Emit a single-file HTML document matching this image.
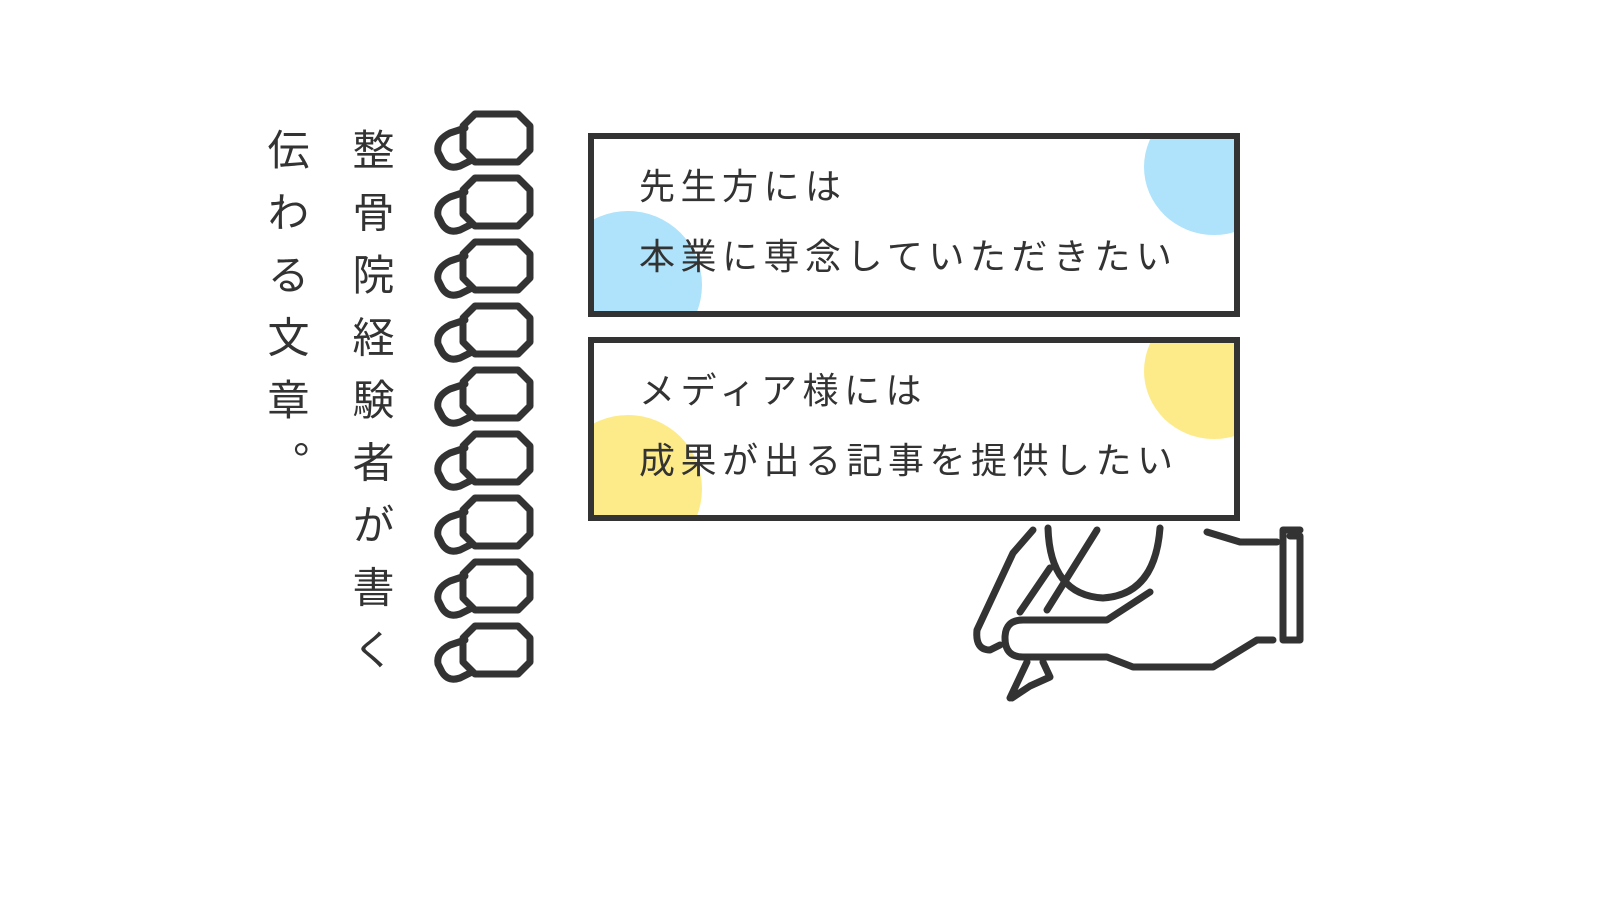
<!DOCTYPE html>
<html><head><meta charset="utf-8"><style>
html,body{margin:0;padding:0;background:#fff;}
body{width:1600px;height:900px;position:relative;overflow:hidden;font-family:"Liberation Sans","Noto Sans CJK JP",sans-serif;color:#333;}
.col{position:absolute;font-size:42px;writing-mode:vertical-rl;letter-spacing:20.5px;line-height:50px;white-space:nowrap;}
.box{position:absolute;left:588px;width:640px;height:172px;border:6px solid #333;overflow:hidden;background:#fff;}
.c{position:absolute;border-radius:50%;}
.t{position:absolute;left:45px;font-size:36px;letter-spacing:5.5px;white-space:nowrap;color:#333;}
</style></head><body>
<div class="col" style="left:345px;top:128px;">整骨院経験者が書く</div>
<div class="col" style="left:260px;top:128px;">伝わる文章。</div>

<svg width="1600" height="900" style="position:absolute;left:0;top:0" fill="none" stroke="#333" stroke-width="7" stroke-linejoin="round" stroke-linecap="round">
<g id="v">
<path d="M465 128 L450 133 Q436 140 438 152 L442 160 Q448 170 460 166 L472 160"/>
<path d="M475 114 L518 114 L530 126 L530 150 L518 162 L475 162 L463 150 L463 126 Z"/>
</g>
<use href="#v" y="64"/><use href="#v" y="128"/><use href="#v" y="192"/><use href="#v" y="256"/><use href="#v" y="320"/><use href="#v" y="384"/><use href="#v" y="448"/><use href="#v" y="512"/>
<g>
<path d="M1033 530 L1013 553 L977 630 Q975 650 990 650 L1000 645"/>
<path d="M1048 528 Q1050 595 1103 598 Q1155 595 1160 528"/>
<path d="M1097 530 L1047 610"/>
<path d="M1050 568 L1020 612"/>
<path d="M1150 592 L1107 620 L1023 620 Q1005 620 1005 638 Q1005 657 1023 657 L1107 657 L1133 667 L1213 667 L1257 640 L1273 640"/>
<path d="M1207 532 L1240 542 L1277 542"/>
<path d="M1283 530 L1283 640 L1300 640 M1290 536 L1300 536 L1300 640 M1283 530 L1300 530"/>
<path d="M1027 662 L1010 698 M1043 662 L1050 677 L1030 686 L1012 698"/>
</g>
</svg>

<div class="box" style="top:133px;">
<div class="c" style="left:550px;top:-40px;width:140px;height:136px;background:#aee3fb;"></div>
<div class="c" style="left:-40px;top:72px;width:148px;height:148px;background:#aee3fb;"></div>
<div class="t" style="top:19px;">先生方には</div>
<div class="t" style="top:89px;">本業に専念していただきたい</div>
</div>
<div class="box" style="top:337px;">
<div class="c" style="left:550px;top:-40px;width:140px;height:136px;background:#fdeb8a;"></div>
<div class="c" style="left:-40px;top:72px;width:148px;height:148px;background:#fdeb8a;"></div>
<div class="t" style="top:19px;">メディア様には</div>
<div class="t" style="top:89px;">成果が出る記事を提供したい</div>
</div>
</body></html>
